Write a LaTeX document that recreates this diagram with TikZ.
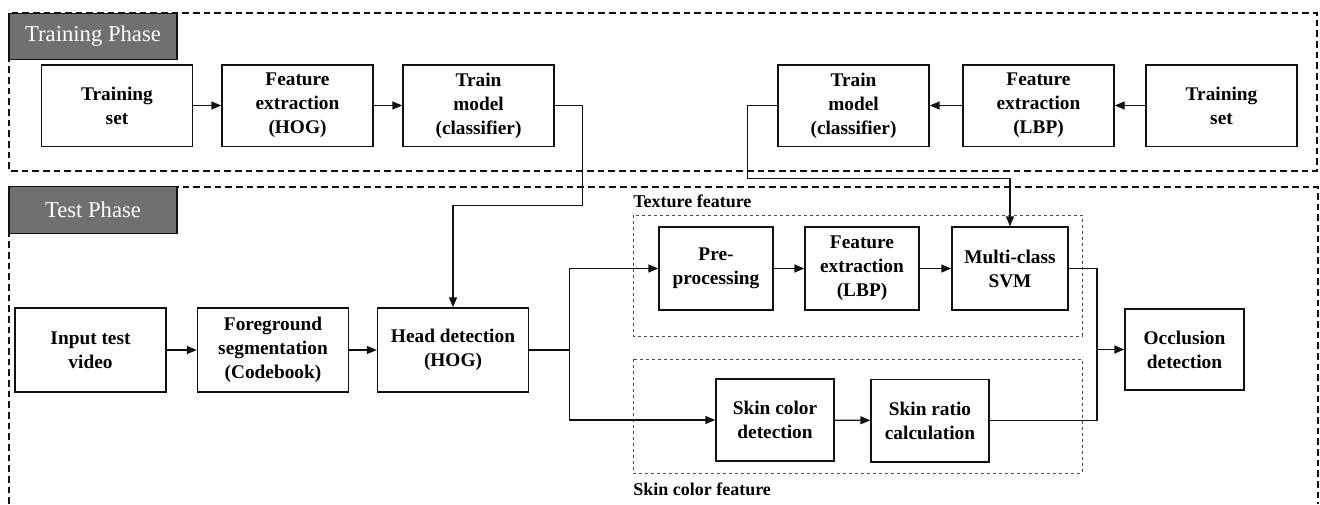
\documentclass[tikz,border=0pt]{standalone}
\usepackage{fontspec}
\setmainfont{Liberation Serif}
\newfontfamily\ocfont{Liberation Serif}
\usepackage{tikz}
\usetikzlibrary{
  arrows.meta,
  positioning,
  calc
}
\definecolor{ocPhase}{HTML}{707070}
\definecolor{ocLine}{HTML}{111111}
\definecolor{ocGroup}{HTML}{4A4A4A}

\begin{document}
\begin{tikzpicture}[x=0.75pt, y=-0.75pt,
  blk/.style={draw=ocLine, line width=1pt, fill=white, align=center,
    font=\ocfont\fontsize{14.5}{18}\selectfont\bfseries,
    minimum width=113.25pt, minimum height=61pt, inner sep=2pt},
  phase/.style={draw=ocLine, line width=0.9pt, fill=ocPhase, text=white,
    font=\ocfont\fontsize{17}{20}\selectfont, minimum width=126pt,
    minimum height=35pt, inner sep=0pt},
  frame/.style={draw=ocLine, line width=0.9pt, dash pattern=on 5pt off 3pt},
  grp/.style={draw=ocGroup, line width=0.75pt, dash pattern=on 2.5pt off 2pt},
  grplabel/.style={font=\ocfont\fontsize{13.5}{16}\selectfont\bfseries,
    anchor=west, inner sep=0pt},
  conn/.style={draw=ocLine, line width=1pt,
    -{Triangle[length=7.5pt, width=6pt]}}]
  \useasboundingbox (0,0) rectangle (1320,504);

  % phase frames
  \draw[frame] (9,13) rectangle (1317,171);
  \draw[frame] (9,504) -- (9,187) -- (1318,187) -- (1318,504);
  \node[phase] (trainlbl) at (93,36.5) {Training Phase};
  \node[phase] (testlbl) at (93,210) {Test Phase};

  % feature groups
  \draw[grp] (633,215) rectangle (1082,336);
  \draw[grp] (633,359) rectangle (1082,473);
  \node[grplabel] (texlbl) at (633,201) {Texture feature};
  \node[grplabel] (skinlbl) at (633,489) {Skin color feature};

  % training row
  \foreach \nm/\x/\txt in {
    ts1/117/{Training\\set},
    fe1/297.5/{Feature\\extraction\\(HOG)},
    tm1/478.5/{Train\\model\\(classifier)},
    tm2/853.5/{Train\\model\\(classifier)},
    fe2/1038.5/{Feature\\extraction\\(LBP)},
    ts2/1221.5/{Training\\set}}{
    \node[blk] (\nm) at (\x,105.5) {\txt};
  }

  % test row
  \foreach \nm/\x/\txt in {
    inp/90.5/{Input test\\video},
    fg/273/{Foreground\\segmentation\\(Codebook)},
    head/453/{Head detection\\(HOG)}}{
    \node[blk, minimum height=63pt] (\nm) at (\x,350) {\txt};
  }
  \node[blk, minimum width=85.5pt, minimum height=62.25pt] (pre) at (716,268.5) {Pre-\\processing};
  \node[blk, minimum width=85.5pt, minimum height=62.25pt] (fe3) at (862,268.5) {Feature\\extraction\\(LBP)};
  \node[blk, minimum width=87pt, minimum height=62.25pt] (svm) at (1010,268.5) {Multi-class\\SVM};
  \node[blk, minimum width=88.5pt, minimum height=61.5pt] (scd) at (775,420) {Skin color\\detection};
  \node[blk, minimum width=88.5pt, minimum height=62pt] (srat) at (930,420.5) {Skin ratio\\calculation};
  \node[blk, minimum width=89.25pt, minimum height=60.75pt] (occ) at (1184.5,349.5) {Occlusion\\detection};
  \coordinate (mrg) at (1097,349.5);

  % connectors
  \draw[conn] (ts1) -- (fe1);
  \draw[conn] (fe1) -- (tm1);
  \draw[conn] (ts2) -- (fe2);
  \draw[conn] (fe2) -- (tm2);
  \draw[conn] (tm1.east) -| ++(28,100) -| (head.north);
  \draw[conn] (tm2.west) -| ++(-30,73) -| (svm.north);
  \draw[conn] (inp) -- (fg);
  \draw[conn] (fg) -- (head);
  \draw[conn] (head.east) -- ++(40,0) |- (pre.west);
  \draw[conn] (head.east) -- ++(40,0) |- (scd.west);
  \draw[conn] (pre) -- (fe3);
  \draw[conn] (fe3) -- (svm);
  \draw[conn] (scd) -- (srat);
  \draw[draw=ocLine, line width=1pt] (svm.east) -| (mrg);
  \draw[draw=ocLine, line width=1pt] (srat.east) -| (mrg);
  \draw[conn, line width=1.4pt] (mrg) -- (occ.west);
\end{tikzpicture}
\end{document}
